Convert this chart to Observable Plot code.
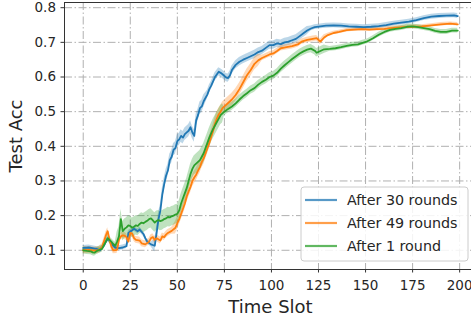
<!DOCTYPE html>
<html>
<head>
<meta charset="utf-8">
<script src="https://cdn.jsdelivr.net/npm/d3@7"></script>
<script src="https://cdn.jsdelivr.net/npm/@observablehq/plot@0.6"></script>
<style>
  html, body { margin: 0; padding: 0; background: white; overflow: hidden; }
  #chart { width: 471px; height: 325px; overflow: hidden; }
  #chart svg { max-width: none !important; }
</style>
</head>
<body>
<div id="chart"></div>
<script>
const seriesNames = ["After 30 rounds", "After 49 rounds", "After 1 round"];
const seriesColors = ["#1f77b4", "#ff7f0e", "#2ca02c"];
const xTicks = [0, 25, 50, 75, 100, 125, 150, 175, 200];
const yTicks = [0.1, 0.2, 0.3, 0.4, 0.5, 0.6, 0.7, 0.8];

const blueSlots = [0,3,5,7,9,11,12,13,14,15,17,19,21,23,24,26,27,29,30,32,33,34,36,38,39,40,41,42,43,44,45,46,47,48,49,50,51,52,53,54,55,56,57,58,59,60,61,62,63,64,66,67,68,70,72,73,74,76,77,78,79,81,83,85,87,89,91,93,95,97,99,101,103,105,107,109,111,113,115,117,119,121,123,126,129,133,137,141,145,149,153,157,161,165,169,173,177,181,185,189,193,197,199];
const blueAcc = [0.107,0.108,0.106,0.104,0.1,0.113,0.124,0.133,0.128,0.118,0.108,0.106,0.108,0.112,0.15,0.158,0.162,0.155,0.16,0.147,0.135,0.125,0.117,0.113,0.15,0.19,0.215,0.26,0.29,0.315,0.33,0.36,0.37,0.39,0.395,0.415,0.42,0.43,0.425,0.435,0.44,0.445,0.455,0.44,0.43,0.475,0.49,0.51,0.515,0.53,0.55,0.565,0.575,0.6,0.615,0.612,0.608,0.598,0.597,0.605,0.62,0.635,0.644,0.65,0.655,0.66,0.665,0.672,0.676,0.684,0.692,0.692,0.697,0.695,0.7,0.702,0.706,0.71,0.718,0.726,0.734,0.74,0.744,0.746,0.748,0.749,0.748,0.746,0.745,0.744,0.745,0.747,0.75,0.754,0.757,0.76,0.764,0.77,0.774,0.776,0.777,0.778,0.776];

const orangeSlots = [0,3,6,8,10,11,12,13,14,15,16,18,19,20,21,22,23,24,25,26,27,28,30,31,33,35,36,37,38,39,41,42,43,44,45,47,49,50,51,52,53,54,55,56,57,58,59,60,61,62,63,64,65,66,67,68,69,70,71,72,73,74,75,77,79,81,83,85,87,89,91,93,95,97,99,101,103,105,108,111,114,116,119,122,124,126,128,130,133,136,140,144,148,152,156,160,165,170,175,180,185,190,195,199];
const orangeAcc = [0.1,0.101,0.099,0.1,0.108,0.125,0.142,0.155,0.13,0.11,0.1,0.101,0.13,0.14,0.143,0.142,0.138,0.125,0.15,0.148,0.135,0.13,0.128,0.12,0.117,0.125,0.135,0.138,0.13,0.135,0.128,0.14,0.138,0.145,0.15,0.156,0.165,0.178,0.19,0.205,0.22,0.235,0.255,0.27,0.283,0.3,0.31,0.318,0.33,0.34,0.355,0.365,0.38,0.395,0.41,0.428,0.445,0.465,0.48,0.492,0.5,0.51,0.515,0.525,0.535,0.548,0.565,0.585,0.605,0.62,0.638,0.648,0.655,0.66,0.665,0.668,0.675,0.683,0.686,0.689,0.694,0.702,0.707,0.71,0.712,0.702,0.714,0.721,0.727,0.73,0.735,0.737,0.738,0.737,0.738,0.739,0.742,0.744,0.745,0.746,0.749,0.752,0.754,0.752];

const greenSlots = [0,2,4,5,6,7,8,10,11,12,13,14,15,16,17,18,19,20,21,22,23,24,25,26,27,28,29,30,31,32,33,34,35,36,37,38,39,40,41,42,43,44,45,46,47,48,49,50,51,52,53,54,55,56,57,58,59,60,61,62,63,64,65,66,67,68,69,70,71,72,73,74,75,77,79,81,83,85,87,89,91,93,95,97,99,101,103,105,107,109,111,113,115,117,119,121,123,124,126,128,131,134,137,140,143,146,148,151,154,157,160,163,166,169,172,175,178,181,184,187,190,193,196,199];
const greenAcc = [0.1,0.098,0.097,0.094,0.093,0.097,0.1,0.104,0.115,0.125,0.135,0.13,0.124,0.118,0.113,0.125,0.14,0.19,0.155,0.162,0.166,0.172,0.17,0.165,0.168,0.172,0.17,0.176,0.18,0.178,0.182,0.185,0.19,0.192,0.186,0.18,0.185,0.187,0.184,0.186,0.19,0.192,0.196,0.195,0.198,0.2,0.203,0.205,0.215,0.235,0.25,0.265,0.28,0.3,0.32,0.335,0.345,0.35,0.355,0.36,0.37,0.38,0.395,0.41,0.425,0.438,0.45,0.46,0.47,0.48,0.49,0.495,0.5,0.508,0.515,0.524,0.535,0.545,0.553,0.562,0.568,0.578,0.586,0.592,0.6,0.604,0.612,0.624,0.634,0.643,0.652,0.66,0.668,0.674,0.679,0.682,0.676,0.67,0.675,0.68,0.681,0.683,0.686,0.69,0.693,0.694,0.698,0.703,0.712,0.722,0.73,0.736,0.739,0.741,0.745,0.746,0.744,0.741,0.738,0.733,0.73,0.73,0.734,0.734];

// half-width of the shaded band, by slot range: [start slot, spread]
const blueSpread = [[0, 0.007], [38, 0.018], [65, 0.012], [120, 0.007]];
const orangeSpread = [[0, 0.01], [48, 0.018], [95, 0.008], [130, 0.005]];
const greenSpread = [[0, 0.01], [18, 0.028], [75, 0.012], [130, 0.007]];

function spreadAt(table, t) {
  let s = table[0][1];
  for (const [start, w] of table) if (t >= start) s = w;
  return s;
}
function rows(slots, acc, spread, name) {
  return slots.map((t, i) => ({
    t, v: acc[i], lo: acc[i] - spreadAt(spread, t), hi: acc[i] + spreadAt(spread, t), name
  }));
}
const series = [
  rows(blueSlots, blueAcc, blueSpread, seriesNames[0]),
  rows(orangeSlots, orangeAcc, orangeSpread, seriesNames[1]),
  rows(greenSlots, greenAcc, greenSpread, seriesNames[2])
];

const gridStyle = { stroke: "#b0b0b0", strokeOpacity: 1, strokeWidth: 1, strokeDasharray: "8,2.5,1.5,2.5" };

const marks = [
  Plot.gridX(xTicks, gridStyle),
  Plot.gridY(yTicks, gridStyle)
];
series.forEach((d, i) => {
  marks.push(Plot.areaY(d, { x: "t", y1: "lo", y2: "hi", fill: seriesColors[i], fillOpacity: 0.3, curve: "linear" }));
});
series.forEach((d, i) => {
  marks.push(Plot.lineY(d, { x: "t", y: "v", stroke: seriesColors[i], strokeWidth: 1.8 }));
});
marks.push(
  Plot.frame({ stroke: "#333", strokeWidth: 1 }),
  Plot.axisX(xTicks, { tickSize: 3.5, tickPadding: 7, label: null, tickFormat: d => String(d), stroke: "#333" }),
  Plot.axisY(yTicks, { tickSize: 3.5, tickPadding: 5, label: null, tickFormat: d => d.toFixed(1), stroke: "#333" }),
  Plot.text(["Time Slot"], { frameAnchor: "bottom", lineAnchor: "middle", dy: 38, fontSize: 18, fill: "#262626" }),
  Plot.text(["Test Acc"], { frameAnchor: "left", lineAnchor: "middle", textAnchor: "middle", dx: -48, rotate: -90, fontSize: 18, fill: "#262626" })
);

const svg = Plot.plot({
  width: 476,
  height: 325,
  marginLeft: 64,
  marginRight: 0,
  marginTop: 2,
  marginBottom: 56,
  x: { domain: [-9.95, 208.95] },
  y: { domain: [0.0445, 0.815] },
  style: { fontFamily: "DejaVu Sans", fontSize: "13.5px", color: "#262626", background: "white", overflow: "visible" },
  marks
});
svg.style.maxWidth = "none";

// legend box
const g = d3.select(svg).append("g").attr("font-family", "DejaVu Sans").attr("font-size", 14.3).attr("text-anchor", "start");
g.append("rect").attr("x", 301).attr("y", 187).attr("width", 167).attr("height", 74)
  .attr("rx", 3).attr("fill", "white").attr("fill-opacity", 0.85).attr("stroke", "#cccccc");
seriesNames.forEach((name, i) => {
  const y = 200 + i * 23;
  g.append("line").attr("x1", 305).attr("x2", 337).attr("y1", y).attr("y2", y)
    .attr("stroke", seriesColors[i]).attr("stroke-width", 2.2).attr("stroke-opacity", 0.75);
  g.append("text").attr("x", 347).attr("y", y).attr("dy", "0.35em").attr("text-anchor", "start")
    .attr("fill", "#262626").text(name);
});

document.getElementById("chart").appendChild(svg);
</script>
</body>
</html>
